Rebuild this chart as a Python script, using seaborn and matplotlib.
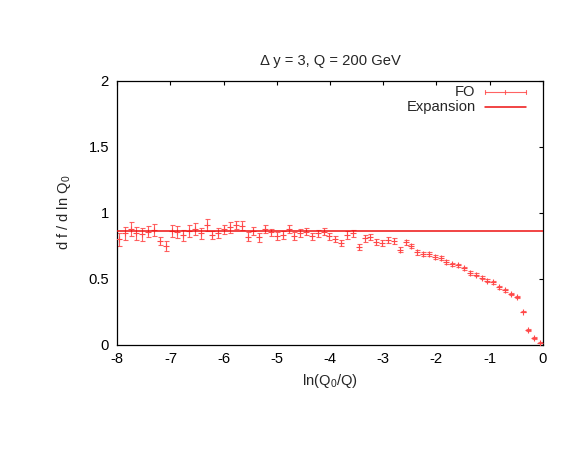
import numpy as np
import pandas as pd
import matplotlib
matplotlib.use("Agg")
import matplotlib.pyplot as plt
import seaborn as sns

# ---- data ----
x_vals = [-7.97, -7.86, -7.75, -7.64, -7.53, -7.42, -7.31, -7.20, -7.09, -6.98,
          -6.87, -6.76, -6.65, -6.54, -6.43, -6.32, -6.21, -6.10, -5.99, -5.88,
          -5.77, -5.66, -5.55, -5.44, -5.33, -5.22, -5.11, -5.00, -4.89, -4.78,
          -4.67, -4.56, -4.45, -4.34, -4.23, -4.12, -4.01, -3.90, -3.79, -3.68,
          -3.57, -3.46, -3.35, -3.24, -3.13, -3.02, -2.91, -2.80, -2.69, -2.58,
          -2.47, -2.36, -2.25, -2.14, -2.03, -1.92, -1.81, -1.70, -1.59, -1.48,
          -1.37, -1.26, -1.15, -1.04, -0.93, -0.82, -0.71, -0.60, -0.49, -0.38,
          -0.27, -0.16, -0.05]
fo_vals = [0.797, 0.842, 0.873, 0.842, 0.835, 0.855, 0.867, 0.786, 0.749, 0.862,
           0.855, 0.827, 0.862, 0.873, 0.842, 0.905, 0.830, 0.847, 0.873, 0.888,
           0.905, 0.900, 0.817, 0.862, 0.812, 0.873, 0.850, 0.824, 0.830, 0.875,
           0.824, 0.842, 0.855, 0.820, 0.842, 0.855, 0.820, 0.799, 0.771, 0.830,
           0.842, 0.736, 0.804, 0.817, 0.779, 0.767, 0.792, 0.784, 0.718, 0.774,
           0.746, 0.698, 0.683, 0.683, 0.665, 0.653, 0.627, 0.607, 0.600, 0.577,
           0.539, 0.529, 0.506, 0.483, 0.471, 0.433, 0.411, 0.385, 0.358, 0.248,
           0.110, 0.049, 0.014]
fo_err = [0.048, 0.048, 0.053, 0.048, 0.047, 0.043, 0.045, 0.030, 0.038, 0.045,
          0.045, 0.040, 0.045, 0.045, 0.040, 0.043, 0.033, 0.040, 0.035, 0.040,
          0.033, 0.033, 0.035, 0.030, 0.035, 0.030, 0.028, 0.028, 0.028, 0.028,
          0.028, 0.030, 0.028, 0.025, 0.025, 0.028, 0.025, 0.023, 0.025, 0.028,
          0.024, 0.023, 0.025, 0.023, 0.023, 0.023, 0.023, 0.020, 0.020, 0.020,
          0.018, 0.018, 0.015, 0.015, 0.015, 0.015, 0.013, 0.013, 0.013, 0.013,
          0.015, 0.012, 0.010, 0.010, 0.012, 0.010, 0.010, 0.008, 0.008, 0.005,
          0.005, 0.005, 0.005]
expansion_value = 0.862

x_ticks = [-8, -7, -6, -5, -4, -3, -2, -1, 0]
x_tick_labels = ["-8", "-7", "-6", "-5", "-4", "-3", "-2", "-1", "0"]
y_ticks = [0, 0.5, 1, 1.5, 2]
y_tick_labels = ["0", "0.5", "1", "1.5", "2"]

title_text = "\u0394 y = 3, Q = 200 GeV"
x_label = "ln(Q$_0$/Q)"
y_label = "d f / d ln Q$_0$"
legend_labels = ["FO", "Expansion"]

# ---- style ----
sns.set_theme(style="white")
plt.rcParams["font.family"] = ["Liberation Sans", "DejaVu Sans"]
plt.rcParams["mathtext.fontset"] = "custom"
plt.rcParams["mathtext.rm"] = "Liberation Sans"
plt.rcParams["mathtext.it"] = "Liberation Sans"
plt.rcParams["mathtext.default"] = "regular"
plt.rcParams["axes.unicode_minus"] = False

fo_color = "#ff4848"
exp_color = "#ee1111"
fs = 10.6

df = pd.DataFrame({"x": x_vals, "y": fo_vals, "err": fo_err})

fig = plt.figure(figsize=(5.81, 4.49), dpi=100)
ax = fig.add_axes([0.2019, 0.2327, 0.7322, 0.5876])

ax.errorbar(df["x"], df["y"], yerr=df["err"], fmt="none", ecolor=fo_color,
            elinewidth=0.8, capsize=1.8, capthick=0.8, alpha=0.85, zorder=2)
sns.scatterplot(data=df, x="x", y="y", marker="+", color=fo_color,
                edgecolor=fo_color, s=14, linewidth=0.8, ax=ax, zorder=3,
                legend=False)
ax.axhline(expansion_value, color=exp_color, lw=1.1, zorder=4)

ax.set_xlim(-8, 0)
ax.set_ylim(0, 2)
ax.set_xticks(x_ticks)
ax.set_xticklabels(x_tick_labels)
ax.set_yticks(y_ticks)
ax.set_yticklabels(y_tick_labels)
ax.tick_params(direction="in", length=3.2, width=0.8, top=True, right=True,
               labelsize=fs, colors="black", pad=5.5)
ax.tick_params(axis="y", pad=6)
for sp in ax.spines.values():
    sp.set_color("black")
    sp.set_linewidth(0.9)

ax.set_xlabel(x_label, fontsize=fs, labelpad=4)
ax.set_ylabel(y_label, fontsize=fs, labelpad=11)
ax.set_title(title_text, fontsize=fs, pad=11)

# gnuplot-style legend (text right-aligned, sample to the right)
tr = ax.transAxes
ax.text(0.8425, 0.957, legend_labels[0], transform=tr, ha="right", va="center",
        fontsize=fs)
ax.text(0.8425, 0.901, legend_labels[1], transform=tr, ha="right", va="center",
        fontsize=fs)
ax.plot([0.864, 0.961], [0.957, 0.957], transform=tr, color=fo_color, lw=0.8,
        alpha=0.85, clip_on=False)
for xs in (0.864, 0.9125, 0.961):
    ax.plot([xs, xs], [0.949, 0.965], transform=tr, color=fo_color, lw=0.8,
            alpha=0.85, clip_on=False)
ax.plot([0.864, 0.961], [0.901, 0.901], transform=tr, color=exp_color, lw=1.1,
        clip_on=False)

fig.savefig("out.png", dpi=100)
